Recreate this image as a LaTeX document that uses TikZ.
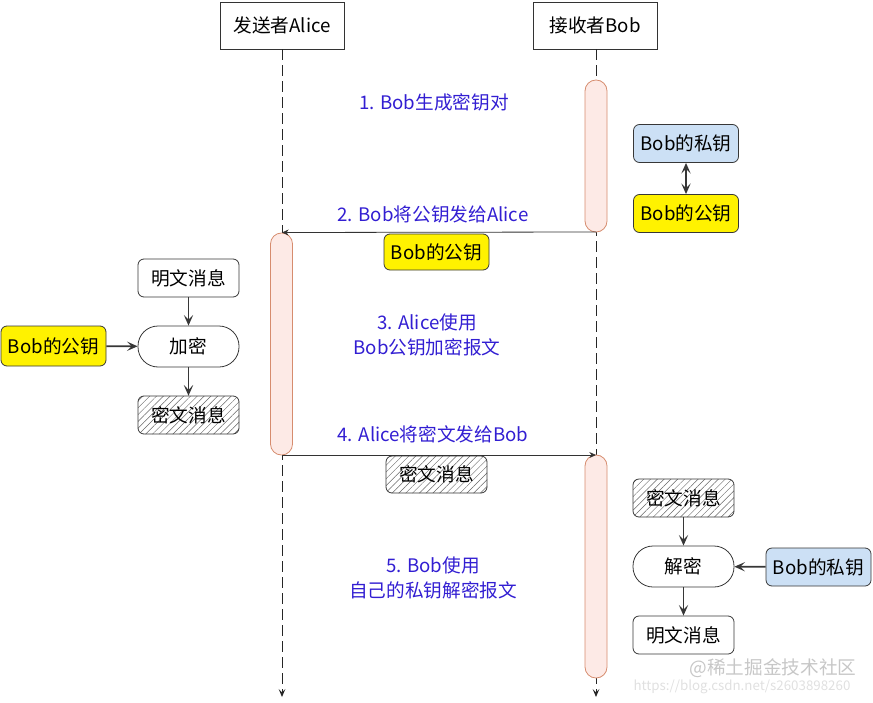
\documentclass[tikz,border=0pt]{standalone}
\usepackage{fontspec}
\setmainfont{Noto Sans CJK SC}
\usetikzlibrary{arrows.meta,patterns.meta}
\definecolor{txtblue}{RGB}{50,30,210}
\definecolor{actfill}{RGB}{253,234,230}
\definecolor{actdraw}{RGB}{214,140,110}
\definecolor{keyblue}{RGB}{204,224,245}
\definecolor{edgegray}{RGB}{55,55,55}
\begin{document}
\begin{tikzpicture}[x=0.75pt,y=-0.75pt,
  font=\fontsize{14}{18.75}\selectfont,
  header/.style={draw=black!80, fill=white, minimum width=93pt, minimum height=35.25pt, inner sep=0pt, line width=0.6pt},
  act/.style={draw=actdraw, fill=actfill, rounded corners=8.2pt, minimum width=16.5pt, inner sep=0pt, line width=0.6pt},
  box/.style={draw=edgegray, fill=white, rounded corners=4.5pt, minimum width=75.75pt, minimum height=28.5pt, inner sep=0pt, line width=0.6pt},
  hatched/.style={box, pattern={Lines[angle=45,distance=3.6pt,line width=0.35pt]}, pattern color=black!60},
  stadium/.style={box, rounded corners=15pt, minimum height=30.75pt},
  pubkey/.style={box, fill=yellow, minimum width=78.75pt},
  privkey/.style={box, fill=keyblue, minimum width=78.75pt},
  lifeline/.style={draw=black!85, dash pattern=on 8pt off 4pt, line width=0.7pt, -{Stealth[length=6pt,width=5pt,inset=2.5pt]}},
  msg/.style={draw=black!80, line width=0.6pt, -{Stealth[length=5pt,width=4.5pt]}},
  flow/.style={draw=edgegray, line width=1.4pt, -{Stealth[length=8pt,width=7pt,inset=3.5pt]}},
  flowboth/.style={draw=edgegray, line width=1.4pt, {Stealth[length=8pt,width=7pt,inset=3.5pt]}-{Stealth[length=8pt,width=7pt,inset=3.5pt]}},
  lbl/.style={text=txtblue, align=center, inner sep=0pt},
  wm/.style={inner sep=0pt}
]
\useasboundingbox (0,0) rectangle (873,702);

% headers
\node[header] (alice) at (282,25.5) {发送者Alice};
\node[header] (bob) at (595,25.5) {接收者Bob};

% lifelines
\coordinate (aliceEnd) at (282,697);
\coordinate (bobEnd) at (596,697);
\draw[lifeline] (alice.south) -- (aliceEnd);
\draw[lifeline] (bob.south -| bobEnd) -- (bobEnd);

% activation bars
\node[act, minimum height=114pt] (act1) at (596,156) {};
\node[act, minimum height=166.5pt] (act2) at (281.5,344) {};
\node[act, minimum height=167.25pt] (act3) at (596,566.5) {};

% step 1
\node[lbl] (m1) at (434,102) {1. Bob生成密钥对};
\node[privkey] (bpriv1) at (686,143.5) {Bob的私钥};
\node[pubkey] (bpub1) at (686,213.5) {Bob的公钥};
\draw[flowboth] (bpriv1) -- (bpub1);

% step 2
\coordinate (m2s) at (596,232);
\coordinate (m2e) at (282,232.5);
\draw[msg] (m2s) -- (m2e);
\node[lbl] (m2) at (433,214) {2. Bob将公钥发给Alice};
\node[pubkey, minimum width=78.75pt, minimum height=27pt] (bpub2) at (436.5,252) {Bob的公钥};

% step 3
\node[box] (plain1) at (188.5,278) {明文消息};
\node[stadium] (enc) at (188.5,346.5) {加密};
\node[hatched] (cipher1) at (188.5,415) {密文消息};
\node[pubkey, minimum height=30pt] (bpub3) at (53.5,346) {Bob的公钥};
\draw[flow] (plain1) -- (enc);
\draw[flow] (enc) -- (cipher1);
\draw[flow] (bpub3) -- (enc);
\node[lbl] (m3) at (427,335) {3. Alice使用\\Bob公钥加密报文};

% step 4
\coordinate (m4s) at (282,455);
\coordinate (m4e) at (596,455);
\draw[msg] (m4s) -- (m4e);
\node[lbl] (m4) at (433,434) {4. Alice将密文发给Bob};
\node[hatched, minimum height=27.75pt] (cipher2) at (436.5,474.5) {密文消息};

% step 5
\node[lbl] (m5) at (433,578) {5. Bob使用\\自己的私钥解密报文};
\node[hatched] (cipher3) at (683.5,498) {密文消息};
\node[stadium] (dec) at (683.5,566.5) {解密};
\node[box] (plain2) at (683.5,635) {明文消息};
\node[privkey] (bpriv2) at (818.5,567) {Bob的私钥};
\draw[flow] (cipher3) -- (dec);
\draw[flow] (dec) -- (plain2);
\draw[flow] (bpriv2) -- (dec);

% watermarks
\node[wm, text=black!22, font=\fontsize{14}{16}\selectfont] (wm1) at (773,668) {@稀土掘金技术社区};
\node[wm, text=black!12, font=\fontsize{10}{12}\selectfont] (wm2) at (742,687) {https://blog.csdn.net/s2603898260};
\end{tikzpicture}
\end{document}
